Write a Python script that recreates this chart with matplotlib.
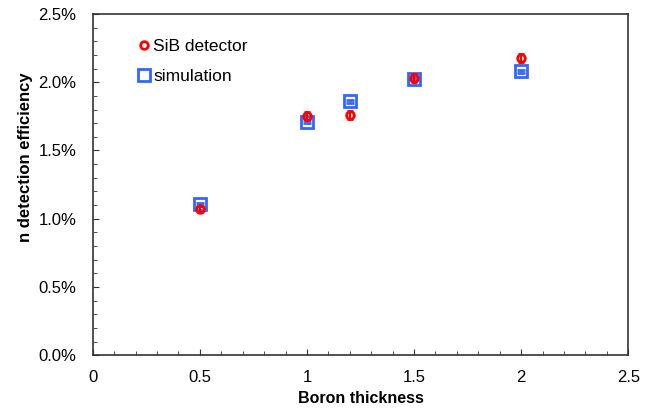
import numpy as np
from matplotlib import pyplot as plt
from matplotlib.lines import Line2D
from matplotlib.ticker import MultipleLocator, FuncFormatter

# boron thickness
thick = [0.5, 1.0, 1.2, 1.5, 2.0]
# efficiency in %
sib_eff = [1.07, 1.75, 1.76, 2.03, 2.18]
sib_err = [0.02, 0.03, 0.03, 0.03, 0.03]
sim_eff = [1.105, 1.71, 1.86, 2.025, 2.08]
sim_err = [0.01, 0.01, 0.01, 0.01, 0.01]

plt.rcParams['font.family'] = ['Liberation Sans', 'DejaVu Sans']

fig = plt.figure(figsize=(6.49, 4.13), dpi=100)
ax = fig.add_axes([0.143, 0.140, 0.825, 0.826])

ax.errorbar(thick, sim_eff, yerr=sim_err, fmt='s', ms=8, mfc='none',
            mec='#3366ff', mew=2, ecolor='#3366ff', elinewidth=1, capsize=3,
            zorder=3)
ax.errorbar(thick, sib_eff, yerr=sib_err, fmt='o', ms=5.5, mfc='none',
            mec='#ff0000', mew=2, ecolor='#ff0000', elinewidth=1.5, capsize=2.5,
            zorder=4)

ax.set_xlim(0, 2.5)
ax.set_ylim(0, 2.5)
ax.xaxis.set_major_locator(MultipleLocator(0.5))
ax.xaxis.set_minor_locator(MultipleLocator(0.1))
ax.yaxis.set_major_locator(MultipleLocator(0.5))
ax.yaxis.set_minor_locator(MultipleLocator(0.1))
ax.xaxis.set_major_formatter(FuncFormatter(lambda v, p: '%g' % v))
ax.yaxis.set_major_formatter(FuncFormatter(lambda v, p: '%.1f%%' % v))
ax.tick_params(which='both', direction='in', top=False, right=False,
               labelsize=12, color='#333333')
ax.tick_params(axis='x', which='major', length=4, pad=11)
ax.tick_params(axis='y', which='major', length=4, pad=12)
ax.tick_params(which='minor', length=3)
for s in ax.spines.values():
    s.set_linewidth(1.2)
    s.set_color('#333333')

ax.set_xlabel('Boron thickness', fontsize=11.5, fontweight='bold', labelpad=4)
ax.set_ylabel('n detection efficiency', fontsize=12, fontweight='bold')
ax.yaxis.set_label_coords(-0.112, 0.58)

handles = [
    Line2D([], [], ls='none', marker='o', ms=5.5, mfc='none', mec='#ff0000', mew=2),
    Line2D([], [], ls='none', marker='s', ms=8, mfc='none', mec='#3366ff', mew=2),
]
ax.legend(handles, ['SiB detector', 'simulation'], loc='upper left',
          bbox_to_anchor=(0.058, 0.972), frameon=False, fontsize=12.5,
          handlelength=0.5, handletextpad=0.3, labelspacing=0.85)

fig.savefig('out.png', dpi=100)
